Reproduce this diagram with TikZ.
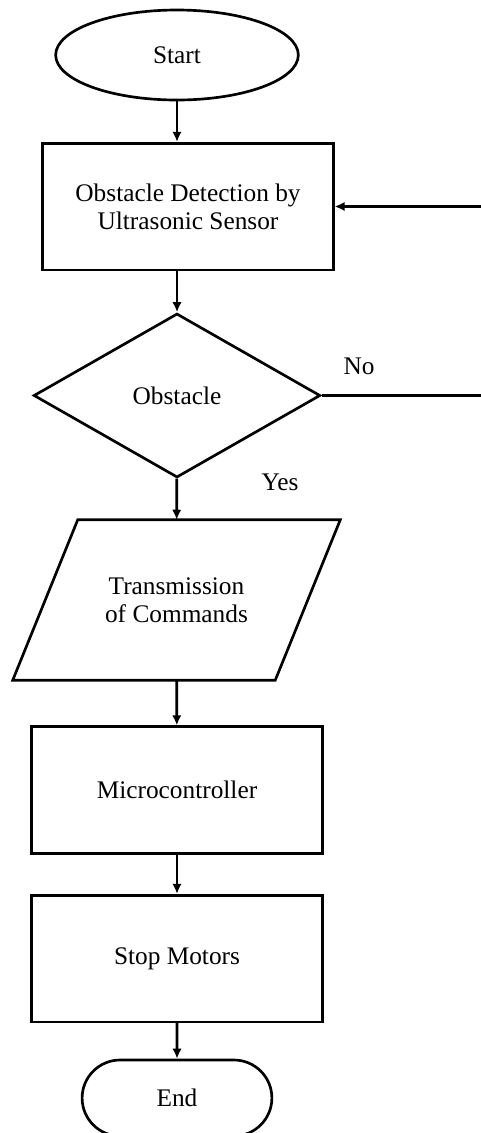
\documentclass[tikz,border=0pt]{standalone}
\usepackage{fontspec}
\setmainfont{Liberation Serif}
\usetikzlibrary{shapes.geometric,shapes.misc,arrows.meta}

\begin{document}
\begin{tikzpicture}[x=0.75pt,y=-0.75pt,>={Latex[length=7.5pt,width=7pt]},
    every node/.style={font=\fontsize{19}{21}\selectfont},
    block/.style={draw,line width=2pt,minimum width=218pt,minimum height=95pt,align=center},
    terminal/.style={draw,line width=2pt},
    decision/.style={diamond,draw,line width=2pt,minimum width=215pt,minimum height=123pt,inner sep=0pt},
    io/.style={minimum width=196.5pt,minimum height=120pt,align=center},
    flow/.style={->,line width=2pt}]
            \useasboundingbox (0,0) rectangle (480,1133);
            \node[terminal,ellipse,minimum width=182pt,minimum height=67.5pt] (start) at (177,55) {Start};
            \node[block] (detect) at (188,206.5) {Obstacle Detection by\\Ultrasonic Sensor};
            \node[decision] (obst) at (177,395.5) {Obstacle};
            \node[io] (trans) at (176.5,600) {Transmission\\of Commands};
            \draw[line width=2pt] ([xshift=24.4pt]trans.north west) -- ([xshift=24.4pt]trans.north east)
                -- ([xshift=-24.4pt]trans.south east) -- ([xshift=-24.4pt]trans.south west) -- cycle;
            \node[block] (mcu) at (177,790) {Microcontroller};
            \node[block] (stop) at (177,958.5) {Stop Motors};
            \node[terminal,rounded rectangle,minimum width=149pt,minimum height=57pt] (fin) at (177,1098) {End};
            \node (yes) at (280,482) {Yes};
            \node (no) at (359,366) {No};
            \coordinate (loop) at (488,300);
            \draw[flow] (start) -- (start |- detect.north);
            \draw[flow] (detect.south -| obst.north) -- (obst);
            \draw[flow] (obst) -- (trans);
            \draw[flow] (trans) -- (mcu);
            \draw[flow] (mcu) -- (stop);
            \draw[flow] (stop) -- (fin);
            \draw[flow] (obst.east) -| (loop) |- (detect.east);
        \end{tikzpicture}
\end{document}
